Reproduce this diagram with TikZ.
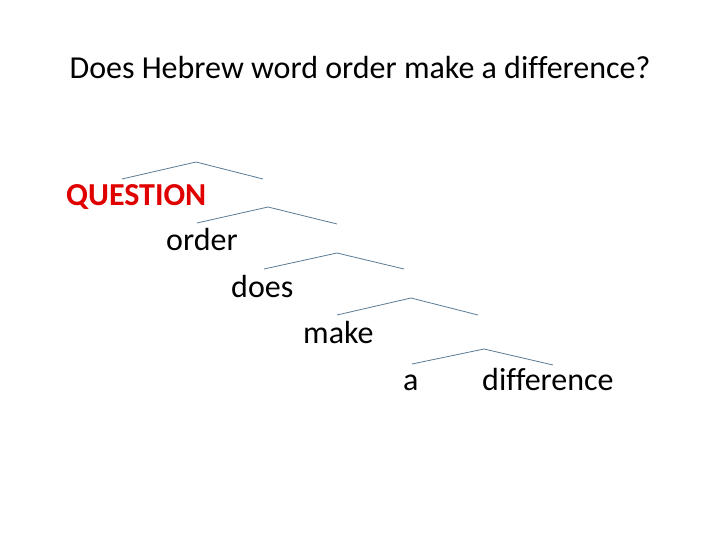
\documentclass[tikz,border=0pt]{standalone}
\usepackage{fontspec}
\setmainfont{Carlito}[Ligatures=NoCommon]
\begin{document}
\begin{tikzpicture}[x=1pt,y=-1pt,
  branch/.style={draw=treeline,line width=0.8pt},
  word/.style={anchor=base west,inner sep=0pt,font=\fontsize{32}{38}\selectfont}]
\definecolor{treeline}{HTML}{5B7B95}
\definecolor{qred}{HTML}{E00000}
\useasboundingbox[fill=white] (0,0) rectangle (720,540);
\node[anchor=base,inner sep=0pt,font=\fontsize{32}{38}\selectfont] (title) at (360,79) {Does Hebrew word order make a difference?};
\node[word,text=qred,font=\fontsize{32}{38}\selectfont\bfseries] (q) at (66,206) {QUESTION};
\node[word] (order) at (166,250) {order};
\node[word] (does) at (231,297) {does};
\node[word] (make) at (303,343) {make};
\node[word] (a) at (403,390) {a};
\node[word] (diff) at (482,390) {difference};
% branches
\coordinate (l1) at (122,179); \coordinate (p1) at (196,162); \coordinate (r1) at (263,179);
\coordinate (l2) at (197,223); \coordinate (p2) at (268,207); \coordinate (r2) at (337,224);
\coordinate (l3) at (264,269); \coordinate (p3) at (337,253); \coordinate (r3) at (404,269);
\coordinate (l4) at (337,315); \coordinate (p4) at (411,298); \coordinate (r4) at (478,315);
\coordinate (l5) at (412,364); \coordinate (p5) at (484,349); \coordinate (r5) at (553,365);
\draw[branch] (l1) -- (p1) -- (r1);
\draw[branch] (l2) -- (p2) -- (r2);
\draw[branch] (l3) -- (p3) -- (r3);
\draw[branch] (l4) -- (p4) -- (r4);
\draw[branch] (l5) -- (p5) -- (r5);
\end{tikzpicture}
\end{document}
